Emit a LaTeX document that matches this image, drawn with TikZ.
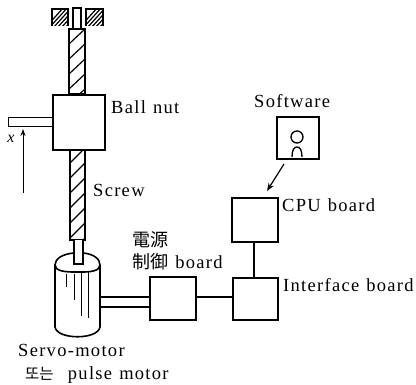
\documentclass[tikz,border=0pt]{standalone}
\usepackage{fontspec}
\usetikzlibrary{arrows.meta}
\setmainfont[LetterSpace=7,WordSpace=1.2]{Liberation Serif}
\newfontfamily\cjk{Noto Sans CJK KR}
\tikzset{
  boxn/.style={draw,line width=1.6pt,fill=white,inner sep=0pt,anchor=north west},
  lab/.style={anchor=west,inner sep=0pt,font=\fontsize{18.5}{20}\selectfont},
  ln/.style={line width=1.4pt},
  hatline/.style={line width=1.2pt}
}
\begin{document}
\begin{tikzpicture}[x=1pt,y=-1pt]
\useasboundingbox (0,0) rectangle (416,385);
% top bearing
\begin{scope}
\clip (52,9) rectangle (68,26);
\foreach \i in {0,4,...,40}{\draw[hatline] (45+\i,28) -- (45+\i+20,6);}
\end{scope}
\begin{scope}
\clip (86,9) rectangle (103,26);
\foreach \i in {0,4,...,40}{\draw[hatline] (79+\i,28) -- (79+\i+20,6);}
\end{scope}
\draw[ln] (52,26) -- (52,9) -- (68,9) -- (68,26);
\draw[ln] (86,26) -- (86,9) -- (103,9) -- (103,26);
\draw[ln] (73,29) -- (73,8) -- (81,8) -- (81,29);
% screw upper
\draw[ln] (69,29) rectangle (85,94);
\begin{scope}
\clip (69,29) rectangle (85,94);
\foreach \y in {44,59,74,89,104}{\draw[hatline] (69,\y) -- (85,\y-15);}
\end{scope}
% screw lower
\draw[ln] (70,149) -- (70,240) -- (85,240) -- (85,149);
\begin{scope}
\clip (70,149) rectangle (85,240);
\foreach \y in {163,178,193,208,223,238,253}{\draw[hatline] (70,\y) -- (85,\y-15);}
\end{scope}
% nut & arm
\node[boxn,minimum width=52pt,minimum height=55pt] (nut) at (52,94) {};
\node[draw,line width=1.4pt,inner sep=0pt,anchor=north west,minimum width=44pt,minimum height=9pt] (arm) at (8,117) {};
\node[inner sep=0pt] (xl) at (11,139) {\fontsize{16}{16}\selectfont\itshape x};
\coordinate (arrS) at (23,193);
\coordinate (arrE) at (23,129);
\draw[line width=1pt,-{Stealth[length=7pt,width=5pt]}] (arrS) -- (arrE);
% motor
\draw[line width=1.6pt] (55,265) -- (55,327) .. controls (57,340) and (98,340) .. (100,327) -- (100,265);
\draw[line width=1.6pt] (74,253) .. controls (62,254) and (55,259) .. (55,265) .. controls (55,271) and (65,272) .. (74,272);
\draw[line width=1.6pt] (83,253) .. controls (94,254) and (100,259) .. (100,265) .. controls (100,271) and (90,272) .. (83,272);
\draw[line width=1.6pt] (74,272) -- (83,272);
\draw[line width=.9pt] (66,274) -- (66,287) (74,274) -- (74,300) (81,272) -- (81,316) (88,272) -- (88,318);
% lower shaft
\draw[ln,fill=white] (74,240) -- (74,264) -- (83,264) -- (83,240);
% boards
\node[boxn,minimum width=46pt,minimum height=43pt] (pw) at (149,276) {};
\node[boxn,minimum width=45pt,minimum height=42pt] (ifb) at (232,277) {};
\node[boxn,minimum width=46pt,minimum height=44pt] (cpu) at (231,197) {};
\node[boxn,minimum width=42pt,minimum height=42pt] (sw) at (276,116) {};
\coordinate (m1) at (100,297);
\coordinate (m2) at (100,307);
\draw[ln] (m1) -- (pw.west |- m1);
\draw[ln] (m2) -- (pw.west |- m2);
\draw[ln] (pw.east |- 0,297) -- (ifb.west |- 0,297);
\draw[ln] (cpu.south -| 254,0) -- (ifb.north -| 254,0);
\coordinate (swo) at (284,164);
\coordinate (cpui) at (267,191);
\draw[line width=1.2pt,-{Stealth[length=8pt,width=6pt]}] (swo) -- (cpui);
% floppy
\draw[line width=1.3pt] (297,137) circle (6);
\draw[line width=1.3pt] (292,157) .. controls (292,150) and (294,147) .. (297,147) .. controls (300,147) and (302,150) .. (302,157);
% labels
\node[lab] (t1) at (111,107) {Ball nut};
\node[lab] (t2) at (93,190) {Screw};
\node[lab] (t3) at (254,101) {Software};
\node[lab] (t4) at (282,205) {CPU board};
\node[lab] (t5) at (283,285) {Interface board};
\node[lab] (t6) at (132,240) {{\cjk\fontsize{18}{18}\selectfont 電源}};
\node[lab] (t7) at (132,262) {{\cjk\fontsize{18}{18}\selectfont 制御} board};
\node[lab] (t8) at (18,350) {Servo-motor};
\node[lab] (t9) at (25,375) {{\cjk\fontsize{15.5}{15.5}\selectfont 또는}\ \ pulse motor};
\end{tikzpicture}
\end{document}
